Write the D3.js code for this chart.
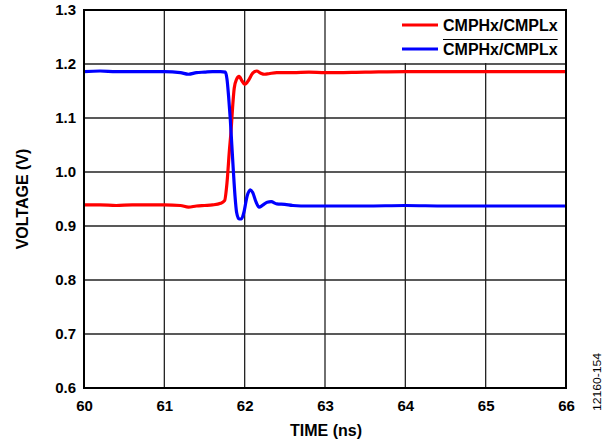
<!DOCTYPE html>
<html><head><meta charset="utf-8">
<script src="https://cdn.jsdelivr.net/npm/d3@7"></script>
<style>body{margin:0;background:#fff}svg{display:block}text{font-family:"Liberation Sans",Arial,sans-serif}</style>
</head><body>
<svg id="c" width="616" height="442"></svg>
<script>
const xTicks = [60, 61, 62, 63, 64, 65, 66];
const yTicks = [0.6, 0.7, 0.8, 0.9, 1.0, 1.1, 1.2, 1.3];
const seriesNames = ["CMPHx/CMPLx", "CMPHx/CMPLx"];
const seriesColors = ["#ff0000", "#0000ff"];
const redT = [60.0,60.2,60.4,60.6,60.8,61.0,61.2,61.3,61.4,61.5,61.6,61.7,61.75,61.78,61.81,61.83,61.85,61.87,61.9,61.93,61.97,62.0,62.04,62.1,62.15,62.2,62.25,62.3,62.4,62.6,62.8,63.0,63.5,64.0,64.5,65.0,65.5,66.0];
const redV = [0.939,0.939,0.938,0.939,0.939,0.939,0.938,0.935,0.937,0.938,0.939,0.942,0.947,0.98,1.04,1.075,1.12,1.155,1.172,1.177,1.168,1.162,1.168,1.183,1.187,1.183,1.181,1.182,1.184,1.184,1.185,1.184,1.185,1.186,1.186,1.186,1.186,1.186];
const blueT = [60.0,60.2,60.4,60.6,60.8,61.0,61.2,61.3,61.4,61.5,61.6,61.7,61.76,61.78,61.80,61.82,61.84,61.86,61.88,61.90,61.93,61.96,61.99,62.03,62.07,62.1,62.14,62.18,62.22,62.28,62.33,62.4,62.5,62.6,62.8,63.0,63.5,64.0,64.5,65.0,65.5,66.0];
const blueV = [1.186,1.187,1.186,1.186,1.186,1.186,1.184,1.181,1.184,1.185,1.186,1.186,1.185,1.172,1.14,1.10,1.05,1.00,0.955,0.925,0.913,0.913,0.925,0.955,0.967,0.962,0.945,0.935,0.938,0.944,0.945,0.941,0.940,0.938,0.937,0.937,0.937,0.938,0.937,0.937,0.937,0.937];

const svg = d3.select("#c");
const L = 84, R = 566, T = 10, B = 388;
const FONT = "Liberation Sans, Arial, sans-serif";
const x = d3.scaleLinear().domain([60, 66]).range([L, R]);
const y = d3.scaleLinear().domain([0.6, 1.3]).range([B, T]);

// gridlines
const g = svg.append("g");
g.selectAll(".vg").data(xTicks.slice(1, -1)).enter().append("line")
  .attr("x1", d => x(d)).attr("x2", d => x(d)).attr("y1", T).attr("y2", B)
  .attr("stroke", "#222").attr("stroke-width", 1.3);
g.selectAll(".hg").data(yTicks.slice(1, -1)).enter().append("line")
  .attr("x1", L).attr("x2", R).attr("y1", d => y(d)).attr("y2", d => y(d))
  .attr("stroke", "#222").attr("stroke-width", 1.3);

// legend background
svg.append("rect").attr("x", 385).attr("y", T).attr("width", R - 385).attr("height", y(1.2) - T - 1).attr("fill", "#fff");

// data lines
const line = d3.line().x(d => x(d[0])).y(d => y(d[1])).curve(d3.curveMonotoneX);
const redData = redT.map((t, i) => [t, redV[i]]);
const blueData = blueT.map((t, i) => [t, blueV[i]]);
svg.append("path").datum(redData).attr("d", line).attr("fill", "none").attr("stroke", seriesColors[0]).attr("stroke-width", 3.2);
svg.append("path").datum(blueData).attr("d", line).attr("fill", "none").attr("stroke", seriesColors[1]).attr("stroke-width", 3.2);

// axes (labels)
const xa = svg.append("g").attr("transform", `translate(0,${B})`)
  .call(d3.axisBottom(x).tickValues(xTicks).tickSize(0).tickPadding(12).tickFormat(d3.format("d")));
xa.select(".domain").remove();
xa.selectAll("text").attr("font-size", 15).attr("font-weight", "bold").attr("fill", "#000").attr("font-family", FONT);
const ya = svg.append("g").attr("transform", `translate(${L},0)`)
  .call(d3.axisLeft(y).tickValues(yTicks).tickSize(0).tickPadding(8).tickFormat(d3.format(".1f")));
ya.select(".domain").remove();
ya.selectAll("text").attr("font-size", 15).attr("font-weight", "bold").attr("fill", "#000").attr("font-family", FONT);

// border
svg.append("rect").attr("x", L).attr("y", T).attr("width", R - L).attr("height", B - T)
  .attr("fill", "none").attr("stroke", "#000").attr("stroke-width", 2);

// legend
const legY = [25, 49];
seriesNames.forEach((n, i) => {
  svg.append("line").attr("x1", 402).attr("x2", 438).attr("y1", legY[i]).attr("y2", legY[i])
    .attr("stroke", seriesColors[i]).attr("stroke-width", 3);
  const t = svg.append("text").attr("x", 443).attr("y", legY[i] + 6).attr("font-size", 16)
    .attr("font-weight", "bold").attr("fill", "#000").text(n);
  if (i === 1) {
    const w = t.node().getComputedTextLength();
    svg.append("line").attr("x1", 443).attr("x2", 443 + w).attr("y1", 39.5).attr("y2", 39.5)
      .attr("stroke", "#000").attr("stroke-width", 1.2);
  }
});

// axis titles
svg.append("text").attr("x", (L + R) / 2 + 1).attr("y", 436).attr("text-anchor", "middle")
  .attr("font-size", 16).attr("font-weight", "bold").text("TIME (ns)");
svg.append("text").attr("transform", `translate(28,199) rotate(-90)`).attr("text-anchor", "middle")
  .attr("font-size", 16).attr("font-weight", "bold").text("VOLTAGE (V)");
svg.append("text").attr("transform", `translate(601,382) rotate(-90)`).attr("text-anchor", "middle")
  .attr("font-size", 10).attr("textLength", 58).attr("lengthAdjust", "spacingAndGlyphs")
  .attr("fill", "#000").text("12160-154");
</script>
</body></html>
